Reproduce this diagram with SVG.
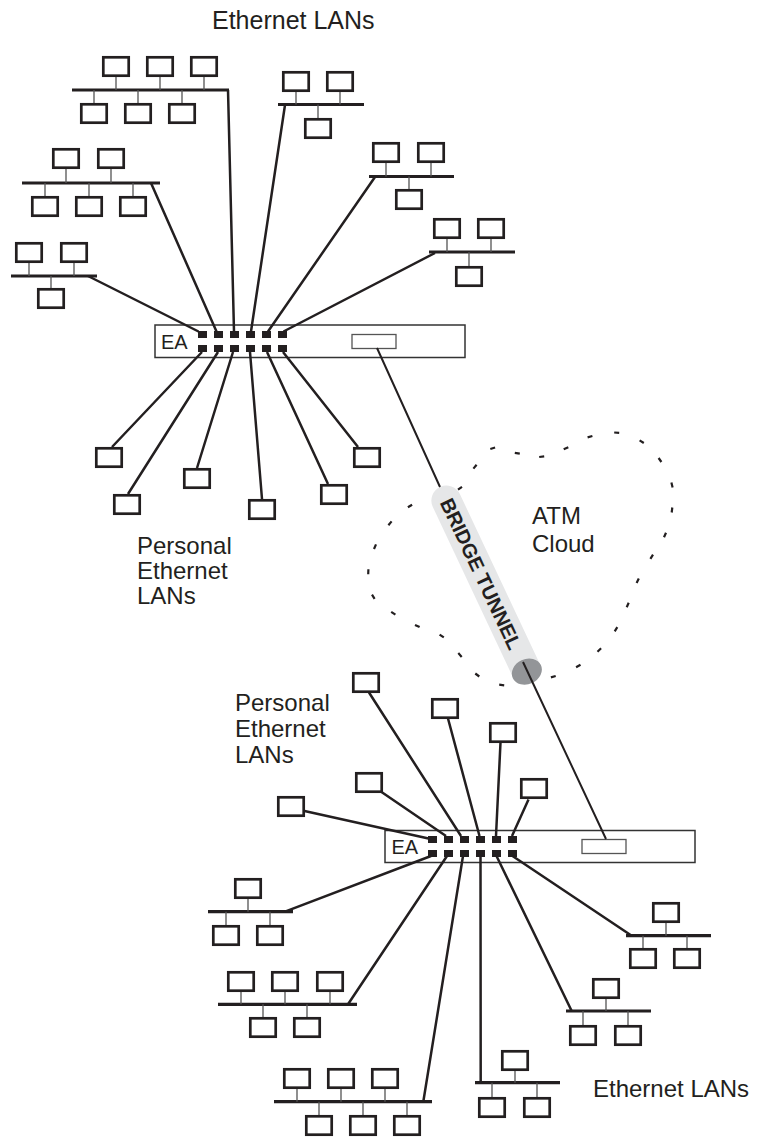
<svg xmlns="http://www.w3.org/2000/svg" xmlns:xlink="http://www.w3.org/1999/xlink" width="768" height="1139" viewBox="0 0 768 1139">
<style>
.bx{fill:#fff;stroke:#231f20;stroke-width:2.7}
.bus{stroke:#231f20;stroke-width:3.2;fill:none}
.stub{stroke:#555;stroke-width:1.3;fill:none}
.ln{stroke:#231f20;stroke-width:2.5;fill:none;stroke-linecap:butt}
.tl{stroke:#231f20;stroke-width:2;fill:none}
.ea{fill:#fff;stroke:#333;stroke-width:1.5}
.slot{fill:#fff;stroke:#555;stroke-width:1.3}
.port{fill:#231f20}
.lbl{font-family:"Liberation Sans",Arial,Helvetica,sans-serif;font-size:24px;fill:#231f20}
.dots{stroke:#231f20;stroke-width:2.2;fill:none}
</style>
<defs>
<rect id="b" class="bx" x="1.3" y="1.3" width="25.4" height="18.4"/>
</defs>
<rect width="768" height="1139" fill="#fff"/>

<text class="lbl" x="212" y="29.3" style="font-size:25px">Ethernet LANs</text>

<g id="lan-a">
<line class="bus" x1="72" y1="90" x2="229" y2="90"/>
<path class="stub" d="M116,77V90M160,77V90M204,77V90M94,90V103M138,90V103M182,90V103"/>
<use href="#b" x="102" y="56"/><use href="#b" x="146" y="56"/><use href="#b" x="190" y="56"/>
<use href="#b" x="80" y="103"/><use href="#b" x="124" y="103"/><use href="#b" x="168" y="103"/>
</g>
<g id="lan-b">
<line class="bus" x1="22" y1="183" x2="160" y2="183"/>
<path class="stub" d="M66,169V183M111,169V183M45,183V196M89,183V196M133,183V196"/>
<use href="#b" x="52" y="148"/><use href="#b" x="97" y="148"/>
<use href="#b" x="31" y="196"/><use href="#b" x="75" y="196"/><use href="#b" x="119" y="196"/>
</g>
<g id="lan-c">
<line class="bus" x1="11" y1="276" x2="97" y2="276"/>
<path class="stub" d="M29,263V276M74,263V276M51,276V288"/>
<use href="#b" x="15" y="242"/><use href="#b" x="60" y="242"/>
<use href="#b" x="37" y="288"/>
</g>
<g id="lan-d">
<line class="bus" x1="278" y1="104.5" x2="364" y2="104.5"/>
<path class="stub" d="M296,92V104.5M340,92V104.5M318,104.5V118"/>
<use href="#b" x="282" y="71"/><use href="#b" x="326" y="71"/>
<use href="#b" x="304" y="118"/>
</g>
<g id="lan-e">
<line class="bus" x1="369" y1="176.5" x2="454" y2="176.5"/>
<path class="stub" d="M386,163V176.5M431,163V176.5M409,176.5V189"/>
<use href="#b" x="372" y="142"/><use href="#b" x="417" y="142"/>
<use href="#b" x="395" y="189"/>
</g>
<g id="lan-f">
<line class="bus" x1="429" y1="252" x2="515" y2="252"/>
<path class="stub" d="M447,239V252M491,239V252M469,252V266"/>
<use href="#b" x="433" y="218"/><use href="#b" x="477" y="218"/>
<use href="#b" x="455" y="266"/>
</g>

<g id="ea-top">
<rect class="ea" x="155" y="325" width="310" height="32.5"/>
<text class="lbl" x="161" y="349" style="font-size:20px">EA</text>
<rect class="port" x="198" y="331" width="9" height="7"/><rect class="port" x="214" y="331" width="9" height="7"/><rect class="port" x="230" y="331" width="9" height="7"/><rect class="port" x="246" y="331" width="9" height="7"/><rect class="port" x="262" y="331" width="9" height="7"/><rect class="port" x="278" y="331" width="9" height="7"/>
<rect class="port" x="198" y="345" width="9" height="7"/><rect class="port" x="214" y="345" width="9" height="7"/><rect class="port" x="230" y="345" width="9" height="7"/><rect class="port" x="246" y="345" width="9" height="7"/><rect class="port" x="262" y="345" width="9" height="7"/><rect class="port" x="278" y="345" width="9" height="7"/>
<rect class="slot" x="352" y="334.5" width="44" height="14"/>
</g>

<g id="personal-top">
<use href="#b" x="95" y="447"/><use href="#b" x="113" y="494"/><use href="#b" x="183" y="468"/>
<use href="#b" x="248" y="499"/><use href="#b" x="320" y="484"/><use href="#b" x="353" y="447"/>
</g>
<text class="lbl" x="137" y="554"><tspan x="137" y="554">Personal</tspan><tspan x="137" y="579">Ethernet</tspan><tspan x="137" y="604">LANs</tspan></text>

<g id="atm-cloud">
<path class="dots" d="M490.3,449.0L495.1,447.5M514.8,452.9L519.8,453.7M539.2,457.0L544.2,456.4M563.7,449.3L568.3,447.3M587.6,437.4L592.4,436.0M614.2,432.5L619.2,432.9M639.6,440.4L643.8,443.0M658.6,458.0L661.4,462.0M671.4,482.6L672.6,487.4M672.3,507.5L671.7,512.5M666,532.7L664,537.3M653,554.6L650.4,558.9M638.8,578.5L636.6,582.9M628.7,602.7L626.7,607.3M617.3,627.2L614.7,631.4M601.1,648.3L597.5,651.7M580.5,664.8L576.1,667.3M555.7,676.0L550.9,677.4M504.2,685.3L499.2,684.7M479.3,676.5L475.3,673.5M461.7,656.9L458.3,653.1M443.8,637.4L439.6,634.6M419.6,627.1L415.0,624.9M395.4,614.7L391.2,611.9M374.6,598.8L372.0,594.6M368.2,574.2L368.4,569.2M374,549L376,544.4M388.4,525.2L391.6,521.4M407.9,507.3L412.1,504.7M458,489.7L462,486.9M473.4,468.6L476.6,464.8"/>
<text class="lbl" x="532" y="524"><tspan x="532" y="524">ATM</tspan><tspan x="532" y="551.5">Cloud</tspan></text>
</g>

<g id="tunnel" transform="translate(440,487) rotate(64.8)">
<path d="M15,-15H204V15H15A15,15 0 0 1 15,-15Z" fill="#e6e7e8"/>
<ellipse cx="204" cy="0" rx="12.5" ry="15.5" fill="#939598"/>
<text x="96" y="7" text-anchor="middle" style="font-family:'Liberation Sans',Arial,Helvetica,sans-serif;font-size:20px;font-weight:bold;fill:#231f20">BRIDGE TUNNEL</text>
</g>

<text class="lbl" x="235" y="711"><tspan x="235" y="711">Personal</tspan><tspan x="235" y="737">Ethernet</tspan><tspan x="235" y="763">LANs</tspan></text>
<g id="personal-bottom">
<use href="#b" x="277" y="796"/><use href="#b" x="355" y="772"/><use href="#b" x="352" y="672"/>
<use href="#b" x="431" y="698"/><use href="#b" x="489" y="722"/><use href="#b" x="520" y="778"/>
</g>

<g id="ea-bottom">
<rect class="ea" x="385" y="830.5" width="310" height="32"/>
<text class="lbl" x="391.5" y="854.3" style="font-size:20px">EA</text>
<rect class="port" x="428" y="836" width="9" height="7"/><rect class="port" x="444" y="836" width="9" height="7"/><rect class="port" x="460" y="836" width="9" height="7"/><rect class="port" x="476" y="836" width="9" height="7"/><rect class="port" x="492" y="836" width="9" height="7"/><rect class="port" x="508" y="836" width="9" height="7"/>
<rect class="port" x="428" y="850" width="9" height="7"/><rect class="port" x="444" y="850" width="9" height="7"/><rect class="port" x="460" y="850" width="9" height="7"/><rect class="port" x="476" y="850" width="9" height="7"/><rect class="port" x="492" y="850" width="9" height="7"/><rect class="port" x="508" y="850" width="9" height="7"/>
<rect class="slot" x="582" y="839.5" width="44" height="14"/>
</g>

<g id="lan-g">
<line class="bus" x1="208" y1="911.7" x2="293" y2="911.7"/>
<path class="stub" d="M248,899V911.7M226,911.7V925M270,911.7V925"/>
<use href="#b" x="234" y="878"/><use href="#b" x="212" y="925"/><use href="#b" x="256" y="925"/>
</g>
<g id="lan-h">
<line class="bus" x1="218" y1="1004.3" x2="357" y2="1004.3"/>
<path class="stub" d="M241,992V1004.3M285,992V1004.3M330,992V1004.3M263,1004.3V1017M307,1004.3V1017"/>
<use href="#b" x="227" y="971"/><use href="#b" x="271" y="971"/><use href="#b" x="316" y="971"/>
<use href="#b" x="249" y="1017"/><use href="#b" x="293" y="1017"/>
</g>
<g id="lan-i">
<line class="bus" x1="274" y1="1101.7" x2="432" y2="1101.7"/>
<path class="stub" d="M297,1089V1101.7M341,1089V1101.7M385,1089V1101.7M319,1101.7V1115M363,1101.7V1115M407,1101.7V1115"/>
<use href="#b" x="283" y="1068"/><use href="#b" x="327" y="1068"/><use href="#b" x="371" y="1068"/>
<use href="#b" x="305" y="1115"/><use href="#b" x="349" y="1115"/><use href="#b" x="393" y="1115"/>
</g>
<g id="lan-j">
<line class="bus" x1="626" y1="935.7" x2="711" y2="935.7"/>
<path class="stub" d="M666,923V935.7M643,935.7V948M687,935.7V948"/>
<use href="#b" x="652" y="902"/><use href="#b" x="629" y="948"/><use href="#b" x="673" y="948"/>
</g>
<g id="lan-k">
<line class="bus" x1="566" y1="1011" x2="651" y2="1011"/>
<path class="stub" d="M606,999V1011M583,1011V1025M628,1011V1025"/>
<use href="#b" x="592" y="978"/><use href="#b" x="569" y="1025"/><use href="#b" x="614" y="1025"/>
</g>
<g id="lan-l">
<line class="bus" x1="475" y1="1082.7" x2="560" y2="1082.7"/>
<path class="stub" d="M515,1071V1082.7M492,1082.7V1097M537,1082.7V1097"/>
<use href="#b" x="501" y="1050"/><use href="#b" x="478" y="1097"/><use href="#b" x="523" y="1097"/>
</g>
<text class="lbl" x="593" y="1097">Ethernet LANs</text>

<g id="connectors">
<path class="ln" d="M88,276L198.5,331.5M151,183L216.5,331.5M228,90L234,331.5M285,105L251,331.5M375,177L268,331.5M435,253L283.5,331.5"/>
<path class="ln" d="M202,352L112,447M218,352L128,494M233,352L197,468M250,352L262,499M267,352L328,484M283,352L358,447"/>
<path class="tl" d="M377,348L440,487M523,662L606,839"/>
<path class="ln" d="M304.5,811L428.5,838.5M381.5,792L446,836M369,692.5L461,836M448,718.5L479.5,836M500.5,742.5L496,836M528.5,799.5L512,836"/>
<path class="ln" d="M431,856L285,911.7M447,856L348,1004.3M463,856L423.3,1101.7M480.5,856L480.7,1082.7M496.5,856L571.7,1011M512.5,856L631.7,935.7"/>
</g>
</svg>
